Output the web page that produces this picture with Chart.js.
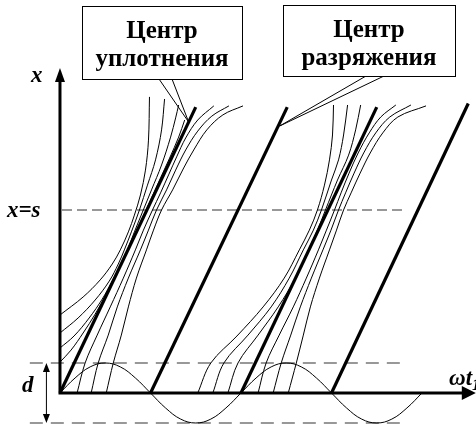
<!DOCTYPE html>
<html>
<head>
<meta charset="utf-8">
<script src="https://cdn.jsdelivr.net/npm/chart.js@4/dist/chart.umd.min.js"></script>
<style>
  body { margin: 0; background: #fff; }
  canvas { display: block; }
</style>
</head>
<body>
<canvas id="waveChart" width="476" height="425"></canvas>
<script>
// Phase wt1 in degrees, displacement x in units of d/2

// Oscillating boundary (sine under the axis)
const sinePhase = [0, 30, 60, 90, 120, 150, 180, 210, 240, 270, 300, 330, 360,
                   390, 420, 450, 480, 510, 540, 570, 600, 630, 660, 690, 720];
const sineShift = [0, 0.5, 0.87, 1, 0.87, 0.5, 0, -0.5, -0.87, -1, -0.87, -0.5, 0,
                   0.5, 0.87, 1, 0.87, 0.5, 0, -0.5, -0.87, -1, -0.87, -0.5, 0];

// Thick straight lines (start on the axis, end at the top)
const thickStart = [0, 180, 360, 540];
const thickEndX = [270, 452, 630, 812];
const thickEndY = [9.53, 9.53, 9.53, 9.65];

// Dashed levels
const dLevel = 1;        // x = d/2 (and -d/2)
const sLevel = 6.1;      // x = s
const dashStart = -60;
const sDashStart = 4;
const dashEnd = 690;

// Thin curves, first compression centre
const c1Left0 = [[0,2.6],[46,3.2],[80,3.77],[104,4.3],[120,4.77],[136,5.37],[148,5.93],[160,6.6],[170,7.43],[176,8.43],[178,9.87]];
const c1Left1 = [[0,2.0],[36,2.5],[70,3.1],[98,3.73],[116,4.3],[128,4.77],[142,5.37],[158,6.1],[174,6.93],[190,7.77],[202,8.77],[208,9.8]];
const c1Left2 = [[0,1.5],[28,1.9],[58,2.5],[84,3.13],[106,3.8],[122,4.33],[134,4.77],[148,5.37],[164,6.03],[182,6.77],[202,7.6],[220,8.53],[230,9.17],[236,9.6]];
const c1Left3 = [[0,1.03],[22,1.43],[46,2.0],[70,2.63],[92,3.3],[112,3.97],[130,4.6],[146,5.17],[164,5.83],[182,6.5],[200,7.17],[218,7.83],[236,8.53],[248,9.1]];
const c1Right1 = [[34,0],[50,1],[74,1.93],[100,2.87],[126,3.83],[150,4.77],[166,5.43],[184,6.1],[200,6.67],[216,7.27],[232,7.87],[250,8.5],[274,9.1],[306,9.57]];
const c1Right2 = [[62,0],[76,1],[96,1.93],[114,2.87],[136,3.83],[160,4.77],[176,5.43],[192,6.1],[212,6.77],[230,7.43],[250,8.1],[274,8.73],[302,9.23],[336,9.57]];
const c1Right3 = [[92,0],[106,1],[122,1.93],[136,2.87],[152,3.83],[172,4.77],[186,5.43],[202,6.1],[224,6.77],[246,7.5],[266,8.1],[292,8.77],[324,9.27],[364,9.57]];

// Thin curves, second compression centre
const c2Left1 = [[274,0],[300,1],[352,1.9],[404,2.87],[446,3.83],[476,4.77],[496,5.43],[512,6.1],[526,6.93],[536,7.77],[542,8.6],[544,9.6]];
const c2Left2 = [[304,0],[326,1],[374,1.93],[420,2.87],[456,3.83],[484,4.77],[504,5.43],[520,6.1],[540,7.1],[554,7.77],[564,8.6],[572,9.6]];
const c2Left3 = [[334,0],[354,1],[394,1.93],[434,2.87],[468,3.83],[494,4.77],[512,5.43],[528,6.1],[552,7.1],[574,7.93],[588,8.77],[598,9.6]];
const c2Right1 = [[394,0],[410,1],[436,1.93],[464,2.87],[490,3.83],[514,4.77],[530,5.43],[546,6.1],[559,6.67],[575,7.33],[593,8.0],[615,8.67],[638,9.2],[668,9.6]];
const c2Right2 = [[424,0],[440,1],[459,1.93],[478,2.87],[500,3.83],[523,4.77],[539,5.43],[554,6.1],[568,6.67],[585,7.33],[604,8.0],[628,8.67],[656,9.2],[698,9.6]];
const c2Right3 = [[454,0],[470,1],[484,1.93],[498,2.87],[516,3.83],[536,4.77],[550,5.43],[564,6.1],[579,6.67],[597,7.33],[617,8.0],[642,8.67],[672,9.2],[728,9.57]];

const thinCurves = [c1Left0, c1Left1, c1Left2, c1Left3, c1Right1, c1Right2, c1Right3,
                    c2Left1, c2Left2, c2Left3, c2Right1, c2Right2, c2Right3];

// Callout tips (points on the thick lines)
const tipCompression = [256, 9.03];
const tipRarefaction = [437, 8.9];

// Axis ends
const xAxisEnd = 827;
const yAxisEnd = 10.83;
const dMarkerX = -27;

const serif = '"Liberation Serif", "Times New Roman", serif';

function pts(list) {
    return list.map(p => ({ x: p[0], y: p[1] }));
}

const datasets = [];

// thick lines on top
thickStart.forEach((s, i) => {
    datasets.push({
        data: [{ x: s, y: 0 }, { x: thickEndX[i], y: thickEndY[i] }],
        borderColor: '#000', borderWidth: 3.2, order: 1
    });
});

thinCurves.forEach(c => {
    datasets.push({ data: pts(c), borderColor: '#000', borderWidth: 1, tension: 0.35, order: 2 });
});

datasets.push({
    data: sinePhase.map((p, i) => ({ x: p, y: sineShift[i] })),
    borderColor: '#000', borderWidth: 1, tension: 0.4, order: 2
});

// dashed lines
[dLevel, -dLevel].forEach(v => {
    datasets.push({
        data: [{ x: dashStart, y: v }, { x: dashEnd, y: v }],
        borderColor: '#777', borderWidth: 1.6, borderDash: [13, 8], order: 3
    });
});
datasets.push({
    data: [{ x: sDashStart, y: sLevel }, { x: dashEnd, y: sLevel }],
    borderColor: '#777', borderWidth: 1.6, borderDash: [10, 5], order: 3
});

datasets.forEach(d => {
    d.showLine = true;
    d.pointRadius = 0;
    d.fill = false;
});

// axes, arrows, labels and callouts
const overlay = {
    id: 'overlay',
    afterDatasetsDraw(chart) {
        const ctx = chart.ctx;
        const sx = chart.scales.x, sy = chart.scales.y;
        const ox = sx.getPixelForValue(0), oy = sy.getPixelForValue(0);
        ctx.save();
        ctx.strokeStyle = '#000';
        ctx.fillStyle = '#000';

        // axes
        const xe = sx.getPixelForValue(xAxisEnd);
        const ye = sy.getPixelForValue(yAxisEnd);
        ctx.lineWidth = 3;
        ctx.beginPath();
        ctx.moveTo(ox, oy + 1.5);
        ctx.lineTo(ox, ye + 10);
        ctx.moveTo(ox - 1.5, oy);
        ctx.lineTo(xe - 10, oy);
        ctx.stroke();
        ctx.beginPath();
        ctx.moveTo(ox, ye);
        ctx.lineTo(ox - 5, ye + 14);
        ctx.lineTo(ox + 5, ye + 14);
        ctx.closePath();
        ctx.fill();
        ctx.beginPath();
        ctx.moveTo(xe, oy);
        ctx.lineTo(xe - 14, oy - 7);
        ctx.lineTo(xe - 14, oy + 7);
        ctx.closePath();
        ctx.fill();

        // d marker
        const dx = sx.getPixelForValue(dMarkerX);
        const dt = sy.getPixelForValue(dLevel), db = sy.getPixelForValue(-dLevel);
        ctx.lineWidth = 1;
        ctx.beginPath();
        ctx.moveTo(dx, dt + 4);
        ctx.lineTo(dx, db - 4);
        ctx.stroke();
        ctx.beginPath();
        ctx.moveTo(dx, dt);
        ctx.lineTo(dx - 3.5, dt + 9);
        ctx.lineTo(dx + 3.5, dt + 9);
        ctx.closePath();
        ctx.moveTo(dx, db);
        ctx.lineTo(dx - 3.5, db - 9);
        ctx.lineTo(dx + 3.5, db - 9);
        ctx.closePath();
        ctx.fill();

        // axis labels
        ctx.textBaseline = 'alphabetic';
        ctx.textAlign = 'left';
        ctx.font = 'italic bold 23px ' + serif;
        ctx.fillText('x', 31, 82);
        ctx.fillText('x=s', 7, 217);
        ctx.fillText('d', 22, 392);
        ctx.fillText('ωt', 449, 385);
        const wtw = ctx.measureText('ωt').width;
        ctx.font = 'italic bold 16px ' + serif;
        ctx.fillText('1', 449 + wtw, 390);

        // callouts
        function callout(box, lines, a, b, tip) {
            const tx = sx.getPixelForValue(tip[0]), ty = sy.getPixelForValue(tip[1]);
            ctx.lineWidth = 1;
            ctx.beginPath();
            ctx.moveTo(a, box.y + box.h);
            ctx.lineTo(tx, ty);
            ctx.lineTo(b, box.y + box.h);
            ctx.stroke();
            ctx.fillStyle = '#fff';
            ctx.fillRect(box.x, box.y, box.w, box.h);
            ctx.strokeRect(box.x + 0.5, box.y + 0.5, box.w, box.h);
            ctx.fillStyle = '#000';
            ctx.font = 'bold 25px ' + serif;
            ctx.textAlign = 'center';
            ctx.fillText(lines[0], box.x + box.w / 2, box.y + 32);
            ctx.fillText(lines[1], box.x + box.w / 2, box.y + 60);
        }
        callout({ x: 82, y: 6, w: 160, h: 73 }, ['Центр', 'уплотнения'], 159, 172, tipCompression);
        callout({ x: 283, y: 5, w: 172, h: 71 }, ['Центр', 'разряжения'], 366, 384, tipRarefaction);

        ctx.restore();
    }
};

new Chart(document.getElementById('waveChart').getContext('2d'), {
    type: 'scatter',
    data: { datasets: datasets },
    options: {
        responsive: false,
        animation: false,
        devicePixelRatio: 1,
        layout: { padding: 0 },
        plugins: { legend: { display: false }, tooltip: { enabled: false } },
        scales: {
            x: { type: 'linear', display: false, min: -119.3, max: 827.4 },
            y: { type: 'linear', display: false, min: -1.067, max: 13.1 }
        }
    },
    plugins: [overlay]
});
</script>
</body>
</html>
